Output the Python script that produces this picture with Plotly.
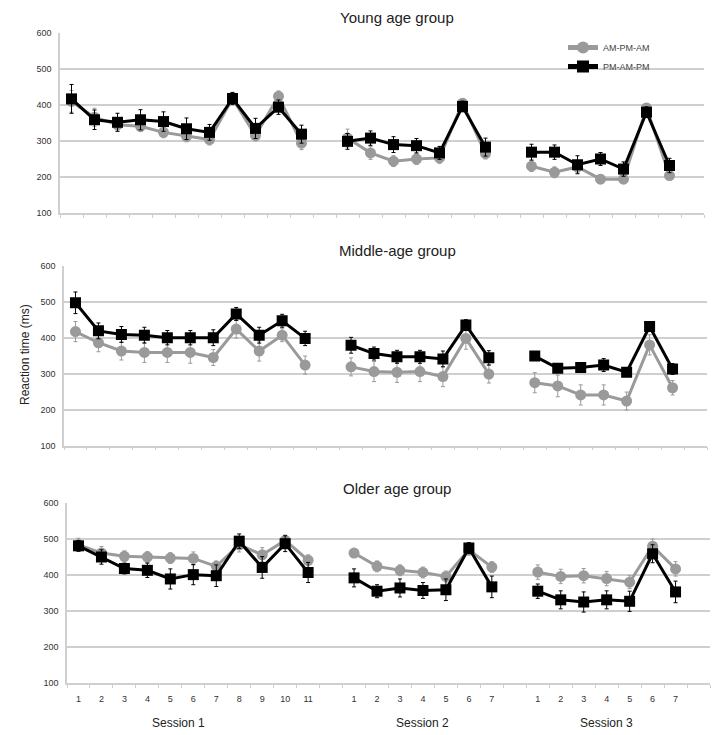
import plotly.graph_objects as go

# ---------------- data ----------------
session_names = ["Session 1", "Session 2", "Session 3"]
session_sizes = [11, 7, 7]
group_titles = ["Young age group", "Middle-age group", "Older age group"]
series_names = ["AM-PM-AM", "PM-AM-PM"]
y_tick_values = [100, 200, 300, 400, 500, 600]

# Young age group
young_am = [410, 366, 345, 341, 324, 313, 304, 418, 315, 424, 294,
            308, 267, 244, 250, 253, 405, 265,
            230, 213, 228, 194, 194, 392, 204]
young_am_err = [30, 25, 18, 15, 15, 15, 15, 15, 15, 15, 18,
                25, 18, 15, 15, 15, 12, 15,
                15, 15, 15, 12, 12, 12, 12]
young_pm = [417, 359, 352, 359, 354, 334, 324, 418, 335, 394, 319,
            299, 308, 290, 287, 267, 396, 283,
            269, 269, 234, 250, 222, 380, 232]
young_pm_err = [40, 27, 25, 28, 27, 30, 22, 17, 28, 20, 25,
                22, 20, 22, 20, 18, 15, 25,
                22, 20, 25, 18, 20, 15, 20]

# Middle-age group
middle_am = [417, 386, 363, 359, 359, 359, 345, 424, 363, 407, 324,
             319, 306, 304, 306, 292, 398, 299,
             275, 266, 241, 241, 224, 380, 261]
middle_am_err = [28, 25, 25, 28, 28, 30, 22, 25, 28, 18, 25,
                 25, 28, 28, 28, 28, 30, 25,
                 28, 30, 28, 28, 25, 28, 20]
middle_pm = [497, 419, 409, 407, 400, 400, 400, 466, 407, 447, 398,
             379, 356, 347, 347, 341, 435, 344,
             349, 315, 317, 324, 304, 431, 313]
middle_pm_err = [30, 22, 22, 22, 20, 20, 22, 18, 22, 18, 20,
                 22, 18, 18, 18, 22, 15, 20,
                 12, 12, 12, 18, 12, 12, 15]

# Older age group
older_am = [484, 461, 452, 450, 447, 446, 424, 484, 456, 496, 441,
            461, 424, 413, 407, 396, 470, 422,
            408, 396, 398, 390, 380, 480, 417]
older_am_err = [18, 18, 15, 15, 15, 18, 15, 20, 20, 15, 15,
                12, 15, 15, 15, 15, 15, 15,
                20, 20, 20, 20, 18, 20, 20]
older_pm = [481, 450, 418, 413, 389, 401, 398, 494, 421, 487, 407,
            392, 355, 364, 357, 359, 475, 367,
            355, 331, 325, 331, 327, 459, 353]
older_pm_err = [15, 20, 15, 20, 28, 28, 30, 20, 30, 22, 28,
                25, 18, 25, 22, 30, 15, 30,
                20, 25, 28, 25, 28, 25, 30]

groups = [
    (young_am, young_am_err, young_pm, young_pm_err),
    (middle_am, middle_am_err, middle_pm, middle_pm_err),
    (older_am, older_am_err, older_pm, older_pm_err),
]

# ---------------- layout helpers ----------------
W, H = 724, 735
# pixel boxes of each panel: (x0, x1, y_top, y_bottom)
panel_px = [(60, 704, 33, 213), (64, 707, 265.7, 445.7), (67, 710, 503, 683)]

# category positions (one empty slot between sessions)
positions, ticktext, session_centers = [], [], []
slot = 0
for n in session_sizes:
    start = slot
    for k in range(n):
        positions.append(slot)
        ticktext.append(str(k + 1))
        slot += 1
    session_centers.append((start + slot - 1) / 2)
    slot += 1
n_slots = slot - 1


def with_gaps(vals):
    xs, ys, i = [], [], 0
    for s, n in enumerate(session_sizes):
        for k in range(n):
            xs.append(positions[i]); ys.append(vals[i]); i += 1
        if s < len(session_sizes) - 1:
            xs.append(positions[i - 1] + 1); ys.append(None)
    return xs, ys


def with_gaps_err(errs):
    out, i = [], 0
    for s, n in enumerate(session_sizes):
        for k in range(n):
            out.append(errs[i]); i += 1
        if s < len(session_sizes) - 1:
            out.append(None)
    return out


GRAY = "#9a9a9a"
BLACK = "#000000"
GRID = "#cfcfcf"
FONT = "Liberation Sans, Arial, sans-serif"

fig = go.Figure()

for p, (am, am_e, pm, pm_e) in enumerate(groups):
    xa = "x" if p == 0 else f"x{p+1}"
    ya = "y" if p == 0 else f"y{p+1}"
    for name, vals, errs, color, symbol, size in [
        (series_names[0], am, am_e, GRAY, "circle", 11),
        (series_names[1], pm, pm_e, BLACK, "square", 11),
    ]:
        xs, ys = with_gaps(vals)
        fig.add_trace(go.Scatter(
            x=xs, y=ys, name=name, mode="lines+markers",
            xaxis=xa, yaxis=ya, connectgaps=False,
            line=dict(color=color, width=3),
            marker=dict(color=color, symbol=symbol, size=size),
            error_y=dict(type="data", array=with_gaps_err(errs), visible=True,
                         color=color, thickness=1, width=2),
            showlegend=(p == 0), legendgroup=name,
        ))

    x0, x1, yt, yb = panel_px[p]
    xdom = [x0 / W, x1 / W]
    ydom = [1 - yb / H, 1 - yt / H]
    xkey = "xaxis" if p == 0 else f"xaxis{p+1}"
    ykey = "yaxis" if p == 0 else f"yaxis{p+1}"
    fig.layout[xkey] = dict(
        domain=xdom, anchor=ya, range=[-0.5, n_slots + 0.5],
        tickmode="array", tickvals=positions, ticktext=ticktext,
        showticklabels=(p == 2), ticks="", ticklabelstandoff=6,
        tickfont=dict(size=9, color="#333", family=FONT),
        showgrid=False, zeroline=False,
        showline=True, linecolor=GRID, linewidth=1.5,
        minor=dict(tick0=-0.5, dtick=1, ticks="outside", ticklen=3,
                   tickcolor=GRID, tickwidth=1, showgrid=False),
        fixedrange=True,
    )
    fig.layout[ykey] = dict(
        domain=ydom, anchor=xa, range=[100, 600],
        tickmode="array", tickvals=y_tick_values,
        tickfont=dict(size=9, color="#333", family=FONT),
        showgrid=True, gridcolor=GRID, gridwidth=1.5,
        zeroline=False, showline=True, linecolor=GRID, linewidth=1.5,
        ticks="", ticklabelstandoff=5, fixedrange=True,
    )
    # panel title
    fig.add_annotation(
        text=group_titles[p], xref="paper", yref="paper",
        x=397 / W, y=1 - (yt - 15) / H, xanchor="center", yanchor="middle",
        showarrow=False, font=dict(size=15, color="#222", family=FONT),
    )

# session labels under bottom panel
session_shift = [-15, 0, 0]
for s, name in enumerate(session_names):
    fig.add_annotation(
        text=name, xref="x3", yref="paper", x=session_centers[s],
        y=1 - 723 / H, xanchor="center", yanchor="middle", xshift=session_shift[s],
        showarrow=False, font=dict(size=12, color="#222", family=FONT),
    )

# y axis title
fig.add_annotation(
    text="Reaction time (ms)", xref="paper", yref="paper",
    x=25 / W, y=1 - 355 / H, textangle=-90, xanchor="center", yanchor="middle",
    showarrow=False, font=dict(size=12, color="#222", family=FONT),
)

fig.update_layout(
    width=W, height=H, autosize=False,
    margin=dict(l=0, r=0, t=0, b=0, autoexpand=False),
    paper_bgcolor="white", plot_bgcolor="white",
    font=dict(family=FONT),
    legend=dict(
        x=563 / W, y=1 - 33 / H, xanchor="left", yanchor="top",
        font=dict(size=9, color="#444", family=FONT),
        bgcolor="rgba(0,0,0,0)", itemwidth=30, tracegroupgap=0,
        traceorder="normal", itemsizing="constant",
    ),
)

fig.write_html("out.html", config={"displayModeBar": False},
               post_script="document.body.style.margin='0';")
